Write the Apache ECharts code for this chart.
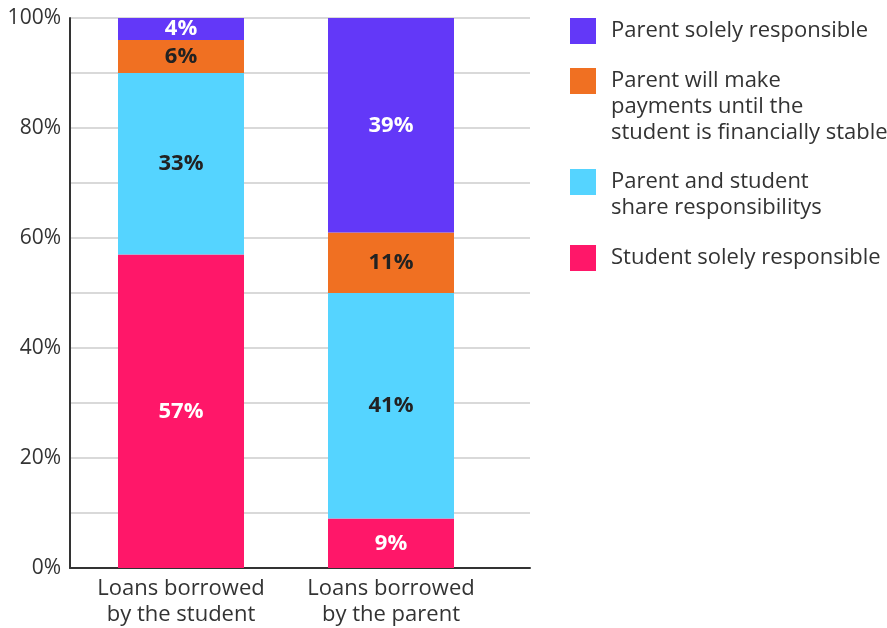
<!DOCTYPE html>
<html>
<head>
<meta charset="utf-8">
<script src="https://cdn.jsdelivr.net/npm/echarts@6/dist/echarts.min.js"></script>
<style>
  html, body { margin: 0; padding: 0; background: #fff; }
  #chart { width: 887px; height: 628px; }
</style>
</head>
<body>
<div id="chart"></div>
<script>
// Who repays the loan, by borrower (percent of respondents)
const categories = ['Loans borrowed\nby the student', 'Loans borrowed\nby the parent'];

const seriesNames = [
  'Student solely responsible',
  'Parent and student share responsibilitys',
  'Parent will make payments until the student is financially stable',
  'Parent solely responsible'
];
const studentSolely = [57, 9];
const sharedResponsibility = [33, 41];
const parentUntilStable = [6, 11];
const parentSolely = [4, 39];

const seriesColors = ['#FF1769', '#55D4FF', '#F07022', '#6338F8'];
const labelColors = ['#ffffff', '#222222', '#222222', '#ffffff'];

// Legend reads top-down, with wrapped names
const legendOrder = [3, 2, 1, 0];
const legendLabels = [
  'Student solely responsible',
  'Parent and student\nshare responsibilitys',
  'Parent will make\npayments until the\nstudent is financially stable',
  'Parent solely responsible'
];

const yMin = 0, yMax = 100, yStep = 10, yLabelStep = 20;

const FONT = '"Open Sans", "Noto Sans", sans-serif';
const chart = echarts.init(document.getElementById('chart'));

const values = [studentSolely, sharedResponsibility, parentUntilStable, parentSolely];

const series = values.map((data, i) => ({
  name: seriesNames[i],
  type: 'bar',
  stack: 'total',
  xAxisIndex: 1,
  yAxisIndex: 1,
  barWidth: 126,
  itemStyle: { color: seriesColors[i] },
  label: {
    show: true,
    position: 'inside',
    formatter: '{c}%',
    color: labelColors[i],
    fontFamily: FONT,
    fontWeight: 'bold',
    fontSize: 22
  },
  emphasis: { disabled: true },
  data: data
}));

// Legend swatches and wrapped names
const legendGraphics = [];
const swatchTops = [18, 68, 169, 245];
legendOrder.forEach((idx, k) => {
  legendGraphics.push({
    type: 'rect',
    left: 570,
    top: swatchTops[k],
    shape: { width: 26, height: 26 },
    style: { fill: seriesColors[idx] }
  });
  legendGraphics.push({
    type: 'text',
    left: 611,
    top: swatchTops[k],
    style: {
      text: legendLabels[idx],
      font: '22px ' + FONT,
      lineHeight: 26,
      fill: '#333'
    }
  });
});

chart.setOption({
  animation: false,
  backgroundColor: '#fff',
  grid: [
    { left: 70, right: 357, top: 18, bottom: 60 },
    { left: 76, width: 420, top: 18, bottom: 60 }
  ],
  xAxis: [
    {
      type: 'category',
      gridIndex: 0,
      data: ['', ''],
      axisLine: { show: true, lineStyle: { color: '#333', width: 2 } },
      axisTick: { show: false },
      axisLabel: { show: false },
      splitLine: { show: false }
    },
    {
      type: 'category',
      gridIndex: 1,
      data: categories,
      axisLine: { show: false },
      axisTick: { show: false },
      axisLabel: {
        interval: 0,
        color: '#333',
        fontFamily: FONT,
        fontSize: 22,
        lineHeight: 26,
        margin: 8
      }
    }
  ],
  yAxis: [
    {
      type: 'value',
      gridIndex: 0,
      min: yMin,
      max: yMax,
      interval: yStep,
      axisLine: { show: true, lineStyle: { color: '#333', width: 2 } },
      axisTick: { show: false },
      axisLabel: {
        color: '#333',
        fontFamily: FONT,
        fontSize: 21,
        margin: 9,
        formatter: v => (v % yLabelStep === 0 ? v + '%' : '')
      },
      splitLine: { lineStyle: { color: '#cccccc', width: 1.5 } }
    },
    {
      type: 'value',
      gridIndex: 1,
      min: yMin,
      max: yMax,
      show: false
    }
  ],
  series: series,
  graphic: legendGraphics
});
</script>
</body>
</html>
